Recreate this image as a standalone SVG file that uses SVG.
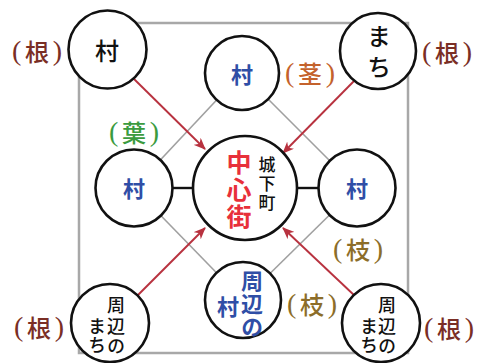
<svg xmlns="http://www.w3.org/2000/svg" width="480" height="363" viewBox="0 0 480 363">
<defs>
<style>
.frame{fill:none;stroke:#a8a8a8;stroke-width:2.5}
.node{fill:#fff;stroke:#111;stroke-width:2.6}
.gray{stroke:#a0a0a0;stroke-width:1.6;fill:none}
.blk{stroke:#111;stroke-width:2.4;fill:none}
.arrow{stroke:#b8323f;stroke-width:1.9;fill:none;marker-end:url(#ah)}
.t{font-family:"Noto Sans CJK JP",sans-serif;text-anchor:middle;dominant-baseline:central}
.v{font-family:"Noto Sans CJK JP",sans-serif;text-anchor:middle;writing-mode:vertical-rl}
.blue{fill:#2f4ea6;font-weight:700;font-size:22px}
.black{fill:#111;font-weight:500}
.red{fill:#e8303a;font-weight:700;font-size:25px}
.p{font-family:"Liberation Serif",serif;font-size:28px}
.lab{font-size:24px;font-weight:500}
.root{fill:#7a2e25}
.stem{fill:#c4622c}
.leaf{fill:#3b9b3f}
.branch{fill:#8c6d29}
</style>
<marker id="ah" viewBox="0 0 12 10" refX="11" refY="5" markerWidth="12" markerHeight="10" markerUnits="userSpaceOnUse" orient="auto">
<path d="M0,0 L12,5 L0,10 L3.5,5 z" fill="#b8323f"/>
</marker>
</defs>
<rect width="480" height="363" fill="#fff"/>
<rect class="frame" x="79" y="23" width="329" height="330"/>
<g id="connectors">
<line class="gray" x1="242" y1="73" x2="134" y2="188"/>
<line class="gray" x1="242" y1="73" x2="357" y2="188"/>
<line class="gray" x1="134" y1="188" x2="243" y2="300"/>
<line class="gray" x1="357" y1="188" x2="243" y2="300"/>
<line class="blk" x1="172" y1="188" x2="194" y2="188"/>
<line class="blk" x1="296" y1="188" x2="319" y2="188"/>
<line class="arrow" x1="133" y1="78" x2="205" y2="149"/>
<line class="arrow" x1="355" y1="80" x2="283" y2="153"/>
<line class="arrow" x1="135" y1="298" x2="205" y2="228"/>
<line class="arrow" x1="355" y1="296" x2="283" y2="228"/>
</g>
<g id="center">
<circle class="node" cx="245" cy="188" r="52"/>
<text class="v red" x="239" y="190" letter-spacing="2">中心街</text>
<text class="v black" style="font-size:17px" x="267" y="185" letter-spacing="2">城下町</text>
</g>
<g id="village-top-left">
<circle class="node" cx="107.5" cy="49.5" r="39"/>
<text class="t black" style="font-size:24px" x="107" y="49">村</text>
</g>
<g id="town-top-right">
<circle class="node" cx="378" cy="51" r="38"/>
<text class="v black" style="font-size:24px" x="379" y="55" letter-spacing="7">まち</text>
</g>
<g id="village-top">
<circle class="node" cx="242" cy="73" r="37"/>
<text class="t blue" x="242" y="73">村</text>
</g>
<g id="village-left">
<circle class="node" cx="134" cy="188" r="38.5"/>
<text class="t blue" x="134" y="187">村</text>
</g>
<g id="village-right">
<circle class="node" cx="357" cy="188" r="38.5"/>
<text class="t blue" x="357" y="187">村</text>
</g>
<g id="village-bottom">
<circle class="node" cx="243" cy="300" r="38"/>
<text class="v blue" x="252" y="304.5" letter-spacing="1">周辺の</text>
<text class="t blue" x="228" y="305">村</text>
</g>
<g id="town-bottom-left">
<circle class="node" cx="110" cy="323" r="39"/>
<text class="v black" style="font-size:18px" x="116" y="327" letter-spacing="2.5">周辺の</text>
<text class="v black" style="font-size:18px" x="97" y="336" letter-spacing="0.5">まち</text>
</g>
<g id="town-bottom-right">
<circle class="node" cx="381" cy="323" r="39"/>
<text class="v black" style="font-size:18px" x="387" y="327" letter-spacing="2.5">周辺の</text>
<text class="v black" style="font-size:18px" x="369" y="336" letter-spacing="0.5">まち</text>
</g>
<g id="labels">
<text class="t lab root" x="37" y="50" textLength="50" lengthAdjust="spacing"><tspan class="p">(</tspan>根<tspan class="p">)</tspan></text>
<text class="t lab root" x="447" y="51" textLength="50" lengthAdjust="spacing"><tspan class="p">(</tspan>根<tspan class="p">)</tspan></text>
<text class="t lab stem" x="310" y="72" textLength="50" lengthAdjust="spacing"><tspan class="p">(</tspan>茎<tspan class="p">)</tspan></text>
<text class="t lab leaf" x="134" y="131" textLength="50" lengthAdjust="spacing"><tspan class="p">(</tspan>葉<tspan class="p">)</tspan></text>
<text class="t lab branch" x="358" y="248" textLength="50" lengthAdjust="spacing"><tspan class="p">(</tspan>枝<tspan class="p">)</tspan></text>
<text class="t lab branch" x="312" y="303" textLength="50" lengthAdjust="spacing"><tspan class="p">(</tspan>枝<tspan class="p">)</tspan></text>
<text class="t lab root" x="39" y="326" textLength="50" lengthAdjust="spacing"><tspan class="p">(</tspan>根<tspan class="p">)</tspan></text>
<text class="t lab root" x="449" y="327" textLength="50" lengthAdjust="spacing"><tspan class="p">(</tspan>根<tspan class="p">)</tspan></text>
</g>
</svg>
